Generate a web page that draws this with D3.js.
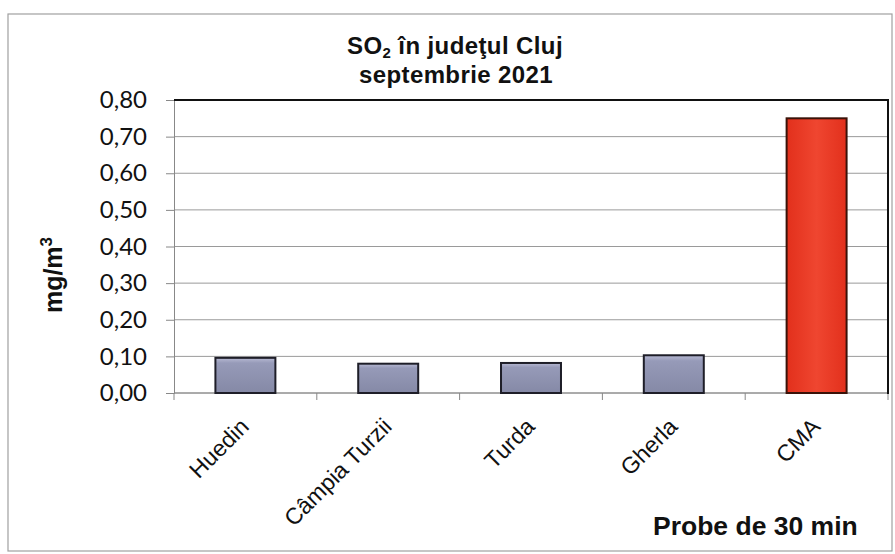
<!DOCTYPE html>
<html><head><meta charset="utf-8">
<script src="https://cdn.jsdelivr.net/npm/d3@7"></script>
<style>body{margin:0;background:#fff}svg{display:block}</style>
</head><body>
<svg id="c" width="895" height="554"></svg>
<script>
const categories = ["Huedin", "Câmpia Turzii", "Turda", "Gherla", "CMA"];
const values = [0.096, 0.080, 0.082, 0.103, 0.750];
const highlight = ["CMA"];
const yTicks = [0, 0.1, 0.2, 0.3, 0.4, 0.5, 0.6, 0.7, 0.8];
const titleLines = ["SO", "septembrie 2021"];
const yLabel = "mg/m";
const xLabel = "Probe de 30 min";

const svg = d3.select("#c");
const m = {left:174, right:888, top:100, bottom:393};
const x = d3.scaleBand().domain(categories).range([m.left, m.right]).paddingInner(0.58).paddingOuter(0.29);
const y = d3.scaleLinear().domain([0, 0.8]).range([m.bottom, m.top]);
const fmt = v => d3.format(".2f")(v).replace(".", ",");

// outer frame
svg.append("rect").attr("x",8).attr("y",14).attr("width",884).attr("height",537)
  .attr("fill","none").attr("stroke","#a0a0a0").attr("stroke-width",1.2);

const defs = svg.append("defs");
const g1 = defs.append("linearGradient").attr("id","gb").attr("x1",0).attr("y1",0).attr("x2",0).attr("y2",1);
g1.append("stop").attr("offset","0").attr("stop-color","#b8bad4");
g1.append("stop").attr("offset","0.15").attr("stop-color","#969ab8");
g1.append("stop").attr("offset","1").attr("stop-color","#8589a6");
const g2 = defs.append("linearGradient").attr("id","gr").attr("x1",0).attr("y1",0).attr("x2",1).attr("y2",0);
g2.append("stop").attr("offset","0").attr("stop-color","#e2301c");
g2.append("stop").attr("offset","0.5").attr("stop-color","#ef4630");
g2.append("stop").attr("offset","1").attr("stop-color","#e2301c");

// gridlines
svg.append("g").selectAll("line").data(yTicks).join("line")
  .attr("x1", m.left).attr("x2", m.right)
  .attr("y1", d=>y(d)).attr("y2", d=>y(d))
  .attr("stroke","#9a9a9a").attr("stroke-width",1);

// y axis
const ya = svg.append("g").attr("transform",`translate(${m.left},0)`)
  .call(d3.axisLeft(y).tickValues(yTicks).tickFormat(fmt).tickSize(8).tickPadding(19));
ya.select(".domain").attr("stroke","#888");
ya.selectAll(".tick line").attr("stroke","#888");
ya.selectAll("text").attr("font-family","Lato, 'Open Sans', sans-serif").attr("font-size",24).attr("fill","#111");

// x axis
const xa = svg.append("g").attr("transform",`translate(0,${m.bottom})`)
  .call(d3.axisBottom(x).tickSize(0).tickFormat(""));
xa.select(".domain").remove();
svg.append("line").attr("x1",m.left).attr("x2",m.right).attr("y1",m.bottom).attr("y2",m.bottom).attr("stroke","#888");
const step = x.step();
svg.append("g").selectAll("line").data(d3.range(categories.length+1)).join("line")
  .attr("x1", i=>m.left + i*step).attr("x2", i=>m.left + i*step)
  .attr("y1", m.bottom).attr("y2", m.bottom+7).attr("stroke","#888");
svg.append("g").selectAll("text").data(categories).join("text")
  .attr("transform", d=>`translate(${x(d)+x.bandwidth()/2+5},${m.bottom+35}) rotate(-45)`)
  .attr("text-anchor","end")
  .attr("font-family","'Liberation Sans', Arial, sans-serif").attr("font-size",23).attr("fill","#111")
  .text(d=>d);

// plot border top/right
svg.append("line").attr("x1",m.left).attr("x2",m.right+1).attr("y1",m.top).attr("y2",m.top).attr("stroke","#111").attr("stroke-width",2);
svg.append("line").attr("x1",m.right).attr("x2",m.right).attr("y1",m.top).attr("y2",m.bottom+1).attr("stroke","#111").attr("stroke-width",2);

// bars
svg.append("g").selectAll("rect").data(categories).join("rect")
  .attr("x", d=>x(d)).attr("width", x.bandwidth())
  .attr("y", (d,i)=>y(values[i])).attr("height",(d,i)=>y(0)-y(values[i]))
  .attr("fill", d=>highlight.includes(d) ? "url(#gr)" : "url(#gb)")
  .attr("stroke", d=>highlight.includes(d) ? "#3a1208" : "#1e1e28").attr("stroke-width",2);

// title
const t = svg.append("text").attr("x",455).attr("y",54).attr("text-anchor","middle")
  .attr("font-family","'Liberation Sans', Arial, sans-serif").attr("font-weight","bold").attr("font-size",24)
  .attr("letter-spacing",0.4).attr("fill","#111");
t.append("tspan").text(titleLines[0]);
t.append("tspan").attr("font-size",15).attr("dy",3.5).text("2");
t.append("tspan").attr("dy",-3.5).text(" în judeţul Cluj");
svg.append("text").attr("x",456).attr("y",83).attr("text-anchor","middle")
  .attr("font-family","'Liberation Sans', Arial, sans-serif").attr("font-weight","bold").attr("font-size",24)
  .attr("letter-spacing",0.4).attr("fill","#111")
  .text(titleLines[1]);

// y label
const yl = svg.append("text").attr("transform","translate(62,275) rotate(-90)").attr("text-anchor","middle")
  .attr("font-family","'Liberation Sans', Arial, sans-serif").attr("font-weight","bold").attr("font-size",25).attr("fill","#111");
yl.append("tspan").text(yLabel);
yl.append("tspan").attr("font-size",17).attr("dy",-10).text("3");

// x label
svg.append("text").attr("x",653).attr("y",535)
  .attr("font-family","'Liberation Sans', Arial, sans-serif").attr("font-weight","bold").attr("font-size",26.5).attr("fill","#111")
  .text(xLabel);
</script>
</body></html>
